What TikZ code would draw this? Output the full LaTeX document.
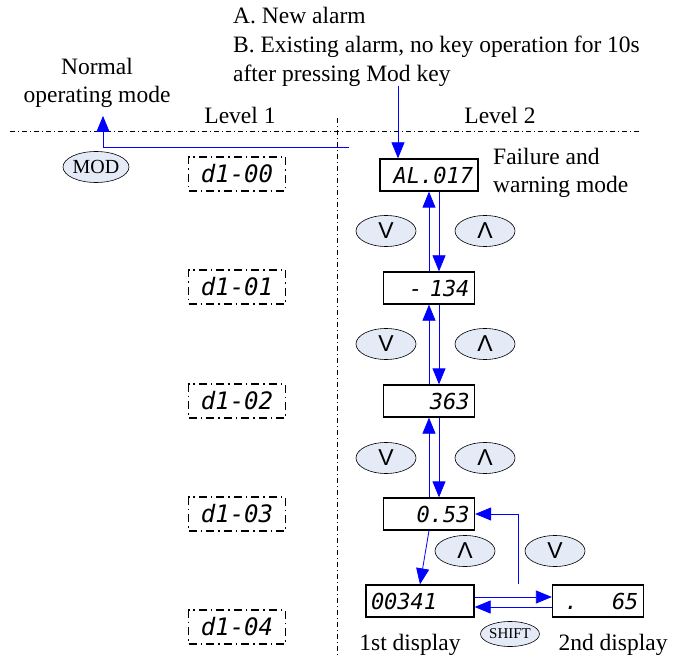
\documentclass[tikz,border=0pt]{standalone}
\usepackage{fontspec}
\setmainfont{Liberation Serif}
\newfontfamily\segfont{DejaVu Sans Mono}
\newfontfamily\symfont{Liberation Sans}
\usetikzlibrary{arrows.meta,shapes.geometric}
\definecolor{keyfill}{RGB}{228,235,247}

\begin{document}
\begin{tikzpicture}[
  x=1pt, y=-1pt,
  font=\fontsize{23.5}{28}\selectfont,
  disp/.style={draw, line width=1.3pt, minimum height=32pt, inner xsep=5pt, inner ysep=2pt, text width=81pt, align=right, font=\segfont\itshape\fontsize{22}{22}\selectfont},
  pdisp/.style={disp, text width=87pt, align=center, minimum height=34pt, dash pattern=on 8pt off 4pt on 1.5pt off 4pt, font=\segfont\itshape\fontsize{24}{24}\selectfont},
  key/.style={draw, ellipse, fill=keyfill, minimum width=60pt, minimum height=31pt, inner sep=0pt, line width=0.6pt, font=\symfont\fontsize{23}{23}\selectfont},
  arr/.style={blue, line width=0.8pt, -{Triangle[length=16pt,width=13pt]}},
  sepline/.style={line width=0.6pt, dash pattern=on 5pt off 3pt on 1pt off 3pt}
]
\useasboundingbox (0,0) rectangle (675,655);

% headings and separators
\node[anchor=west, align=left, inner sep=0pt, font=\fontsize{23.5}{29}\selectfont] (alarm) at (233,47) {A. New alarm\\B. Existing alarm, no key operation for 10s\\after pressing Mod key};
\node[align=center, inner sep=0pt] (normal) at (97,83) {Normal\\operating mode};
\node (lv1) at (240,115) {Level 1};
\node (lv2) at (500,115) {Level 2};
\draw[sepline] (10,131) -- (640,131);
\draw[sepline] (337,118) -- (337,655);

% level 1
\node[key, font=\fontsize{20}{20}\selectfont] (mod) at (96,167) {MOD};
\node[pdisp] (d0) at (237,174) {d1-00};
\node[pdisp] (d1) at (237,287) {d1-01};
\node[pdisp] (d2) at (237,401) {d1-02};
\node[pdisp] (d3) at (237,514) {d1-03};
\node[pdisp] (d4) at (237,627) {d1-04};

% level 2
\node[disp, text width=88pt] (al) at (429,175) {AL.017};
\node[anchor=west, align=left, inner sep=0pt] (fail) at (493,173) {Failure and\\warning mode};
\node[disp] (m134) at (429,288) {-\ 134};
\node[disp] (p363) at (429,401) {363};
\node[disp] (p053) at (429,514) {0.53};
\node[disp, text width=98pt, align=left] (p341) at (420,601) {00341};
\node[disp] (p65) at (598,601) {.\hspace{34pt}65};

\node[key] (dn1) at (386,231) {V};
\node[key] (up1) at (485,231) {Λ};
\node[key] (dn2) at (386,344) {V};
\node[key] (up2) at (485,344) {Λ};
\node[key] (dn3) at (386,458) {V};
\node[key] (up3) at (485,458) {Λ};
\node[key] (up4) at (465,551) {Λ};
\node[key] (dn4) at (555,551) {V};
\node[key, minimum width=58pt, minimum height=25pt, font=\fontsize{15}{15}\selectfont] (shift) at (510,634) {SHIFT};

\node (first) at (410,645) {1st display};
\node (second) at (613,645) {2nd display};

% connectors
\coordinate (cmod) at (349,147);
\coordinate (calarm) at (398,86);
\coordinate (c65) at (518,584);
\draw[arr] (cmod) -| ([xshift=6pt,yshift=-8pt]normal.south);
\draw[arr] (calarm) -- (calarm |- al.north);
\draw[arr] (m134.north) -- (al.south);
\draw[arr] ([xshift=10pt]al.south) -- ([xshift=10pt]m134.north);
\draw[arr] (p363.north) -- (m134.south);
\draw[arr] ([xshift=10pt]m134.south) -- ([xshift=10pt]p363.north);
\draw[arr] (p053.north) -- (p363.south);
\draw[arr] ([xshift=10pt]p363.south) -- ([xshift=10pt]p053.north);
\draw[arr] (p053.south) -- (p341.north);
\draw[arr] ([yshift=4pt]p341.east) -- ([yshift=4pt]p65.west);
\draw[arr] ([yshift=-6pt]p65.west) -- ([yshift=-6pt]p341.east);
\draw[arr] (c65) |- (p053.east);
\end{tikzpicture}
\end{document}
